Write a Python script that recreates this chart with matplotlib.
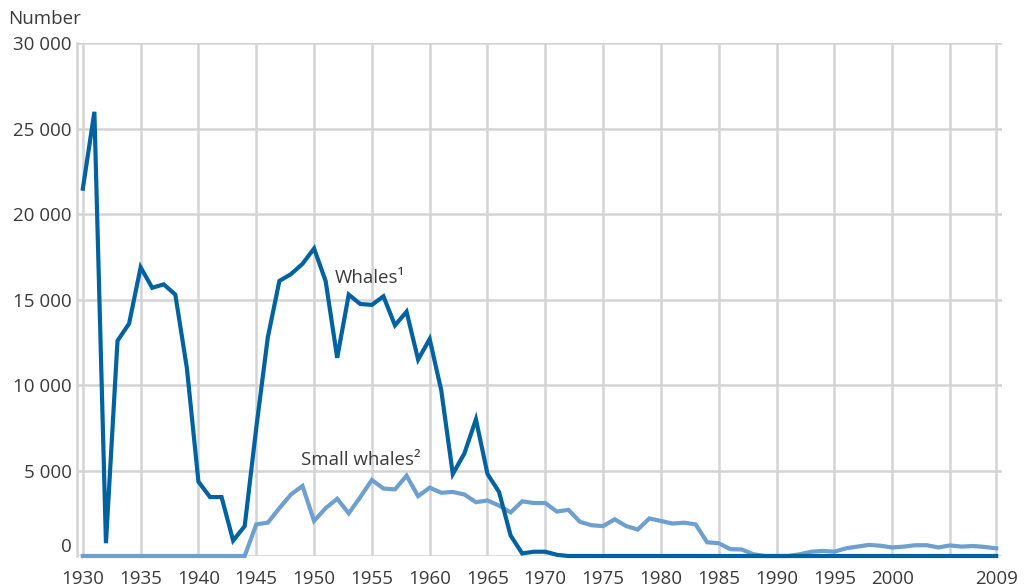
import matplotlib.pyplot as plt
from matplotlib.transforms import ScaledTranslation

plt.rcParams['font.family'] = ['Open Sans', 'DejaVu Sans']

years = list(range(1930, 2010))

# whale catch per year
whales = [21500, 26000, 750, 12600, 13600, 16900, 15700, 15900, 15300, 11000,
          4350, 3450, 3450, 900, 1750, 7500, 12800, 16100, 16500, 17100,
          18000, 16100, 11600, 15300, 14750, 14700, 15200, 13500, 14300, 11500,
          12700, 9700, 4800, 6000, 8000, 4800, 3750, 1200, 150, 250,
          250, 70, 0, 0, 0, 0, 0, 0, 0, 0,
          0, 0, 0, 0, 0, 0, 0, 0, 0, 0,
          0, 0, 0, 0, 0, 0, 0, 0, 0, 0,
          0, 0, 0, 0, 0, 0, 0, 0, 0, 0]

small_whales = [0, 0, 0, 0, 0, 0, 0, 0, 0, 0,
                0, 0, 0, 0, 0, 1850, 1950, 2800, 3600, 4100,
                2050, 2800, 3350, 2500, 3450, 4450, 3950, 3900, 4700, 3500,
                4000, 3700, 3750, 3600, 3150, 3250, 2950, 2550, 3200, 3100,
                3100, 2600, 2700, 2000, 1800, 1750, 2150, 1750, 1550, 2200,
                2050, 1900, 1950, 1850, 800, 750, 400, 380, 100, 0,
                0, 0, 100, 250, 300, 250, 450, 550, 650, 600,
                500, 550, 630, 630, 500, 620, 550, 585, 530, 450]

tick_years = [1930, 1935, 1940, 1945, 1950, 1955, 1960, 1965, 1970, 1975,
              1980, 1985, 1990, 1995, 2000, 2009]
y_ticks = [0, 5000, 10000, 15000, 20000, 25000, 30000]
y_labels = ['0', '5 000', '10 000', '15 000', '20 000', '25 000', '30 000']

dark_blue = '#0062a0'
light_blue = '#6d9fcf'
grid_grey = '#d4d4d4'
text_grey = '#3a3a3a'

fig = plt.figure(figsize=(10.3, 5.86), dpi=100)
ax = fig.add_axes([0.0748, 0.0512, 0.8980, 0.8746])

ax.plot(years, small_whales, color=light_blue, lw=3.0, clip_on=False,
        solid_joinstyle='miter', zorder=3)
ax.plot(years, whales, color=dark_blue, lw=3.0, clip_on=False,
        solid_joinstyle='miter', zorder=4)

ax.set_xlim(1929.5, 2009.5)
ax.set_ylim(0, 30000)

ax.set_xticks(tick_years)
ax.set_xticks([2005], minor=True)
ax.set_yticks(y_ticks)
ax.set_yticklabels(y_labels)

ax.grid(True, which='both', axis='x', color=grid_grey, lw=1.8, zorder=1)
ax.grid(True, which='major', axis='y', color=grid_grey, lw=1.8, zorder=1)
ax.set_axisbelow(True)

ax.tick_params(which='both', length=0, labelsize=13.5, labelcolor=text_grey)
ax.tick_params(axis='x', pad=10)
ax.tick_params(axis='y', pad=4)

for side in ['top', 'right', 'bottom']:
    ax.spines[side].set_visible(False)
ax.spines['left'].set_color(grid_grey)
ax.spines['left'].set_linewidth(1.8)

# lift the zero label clear of the year labels
zero_label = ax.get_yticklabels()[0]
zero_label.set_transform(zero_label.get_transform() +
                         ScaledTranslation(0, 8 / 72, fig.dpi_scale_trans))

fig.text(0.008, 0.968, 'Number', fontsize=13.5, color=text_grey, va='center')

ax.text(1951.8, 16300, 'Whales\u00b9', fontsize=13.5, color=text_grey,
        va='center', ha='left')
ax.text(1948.9, 5600, 'Small whales\u00b2', fontsize=13.5, color=text_grey,
        va='center', ha='left')

fig.savefig('out.png', dpi=100)
